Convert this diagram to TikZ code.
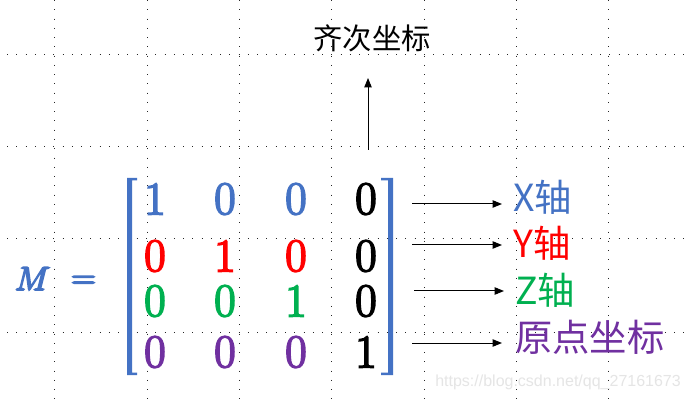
\documentclass[tikz,border=0pt]{standalone}
\usepackage{fontspec}
\newfontfamily\cjk{Noto Sans CJK SC}
\newfontfamily\wmfont{Liberation Sans}
\newcommand\heavytext[1]{\special{pdf:literal direct 2 Tr 1.3 w}#1\special{pdf:literal direct 0 Tr}}
\usetikzlibrary{arrows.meta}
\definecolor{mblue}{HTML}{4472C4}
\definecolor{mred}{HTML}{FF0000}
\definecolor{mgreen}{HTML}{00B050}
\definecolor{mpurple}{HTML}{7030A0}
\begin{document}
\begin{tikzpicture}[x=0.75pt,y=-0.75pt,
  gridline/.style={line width=0.75pt, dash pattern=on 0.75pt off 6.2pt, black!85},
  entry/.style={inner sep=0pt, font=\fontsize{35}{40}\selectfont},
  lab/.style={inner sep=0pt, anchor=west, font=\cjk\fontsize{28}{32}\selectfont},
  arr/.style={line width=0.75pt, -{Triangle[length=7pt,width=5.5pt]}}]
\useasboundingbox (0,0) rectangle (688,402);
\fill[white] (0,0) rectangle (688,402);
% dotted grid
\foreach \x in {54,147,239,331,424,516,608} \draw[gridline] (\x,0) -- (\x,402);
\foreach \y in {55,147,239,332} \draw[gridline] (7,\y) -- (688,\y);
% watermark
\node[inner sep=0pt, anchor=west, font=\wmfont\fontsize{12}{14}\selectfont, text=black!10] (wm) at (435,382) {https://blog.csdn.net/qq\_27161673};
% M =
\node[inner sep=0pt, anchor=base, text=mblue, font=\fontsize{33}{36}\selectfont] (M) at (32.5,290) {\heavytext{$M$}};
\node[inner sep=0pt, anchor=base, text=mblue, font=\fontsize{34}{36}\selectfont] (eq) at (83.5,288) {\heavytext{$=$}};
% brackets
\fill[mblue] (127,178) -- (137,178) -- (137,180.5) -- (132,180.5) -- (132,372.5) -- (137,372.5) -- (137,375) -- (127,375) -- cycle;
\fill[mblue] (393,178) -- (381,178) -- (381,180.5) -- (388,180.5) -- (388,372.5) -- (381,372.5) -- (381,375) -- (393,375) -- cycle;
% entries
\node[entry, text=mblue] (m11) at (155,199) {\heavytext{1}};
\node[entry, text=mblue] (m12) at (225,199) {\heavytext{0}};
\node[entry, text=mblue] (m13) at (296,199) {\heavytext{0}};
\node[entry, text=black] (m14) at (366,199) {\heavytext{0}};
\node[entry, text=mred] (m21) at (155,256) {\heavytext{0}};
\node[entry, text=mred] (m22) at (225,256) {\heavytext{1}};
\node[entry, text=mred] (m23) at (296,256) {\heavytext{0}};
\node[entry, text=black] (m24) at (366,256) {\heavytext{0}};
\node[entry, text=mgreen] (m31) at (155,301) {\heavytext{0}};
\node[entry, text=mgreen] (m32) at (225,301) {\heavytext{0}};
\node[entry, text=mgreen] (m33) at (296,301) {\heavytext{1}};
\node[entry, text=black] (m34) at (366,301) {\heavytext{0}};
\node[entry, text=mpurple] (m41) at (155,352) {\heavytext{0}};
\node[entry, text=mpurple] (m42) at (225,352) {\heavytext{0}};
\node[entry, text=mpurple] (m43) at (296,352) {\heavytext{0}};
\node[entry, text=black] (m44) at (366,352) {\heavytext{1}};
% top label and arrow
\node[inner sep=0pt, font=\cjk\fontsize{22}{26}\selectfont] (hom) at (372,38) {齐次坐标};
\coordinate (vs) at (368,150);
\coordinate (ve) at (368,78);
\draw[arr] (vs) -- (ve);
% right labels
\node[lab, text=mblue] (lx) at (513,197) {X轴};
\node[lab, text=mred] (ly) at (513,243) {Y轴};
\node[lab, text=mgreen] (lz) at (515,290) {Z轴};
\node[lab, text=mpurple] (lo) at (515,337) {原点坐标};
% arrows
\coordinate (a1s) at (412,204); \coordinate (a1e) at (502,204);
\coordinate (a2s) at (412,245); \coordinate (a2e) at (502,245);
\coordinate (a3s) at (414,291); \coordinate (a3e) at (504,291);
\coordinate (a4s) at (412,343); \coordinate (a4e) at (502,343);
\draw[arr] (a1s) -- (a1e);
\draw[arr] (a2s) -- (a2e);
\draw[arr] (a3s) -- (a3e);
\draw[arr] (a4s) -- (a4e);
\end{tikzpicture}
\end{document}
